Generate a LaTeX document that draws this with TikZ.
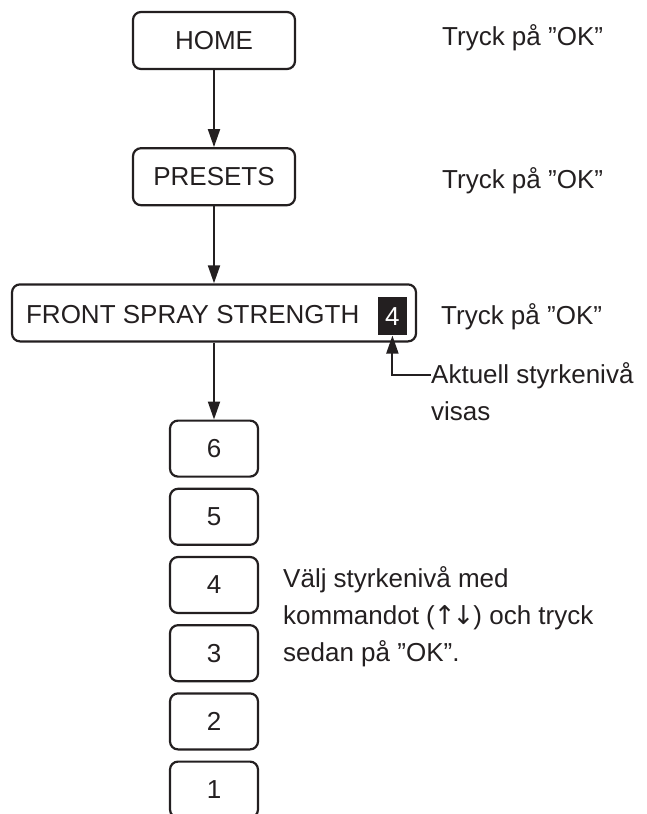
\documentclass[tikz,border=0pt]{standalone}
\usepackage{fontspec}
\setmainfont{Liberation Sans}
\newfontfamily\arrowfont{DejaVu Sans}
\usetikzlibrary{arrows.meta,positioning}
\definecolor{ink}{RGB}{35,31,32}

\begin{document}
\begin{tikzpicture}[
   x=1pt, y=-1pt,
   every node/.style={font=\fontsize{26}{37}\selectfont, text=ink},
   menubox/.style={draw=ink, line width=2.2pt, rounded corners=8pt,
      minimum height=57pt, inner sep=0pt},
   levelbox/.style={draw=ink, line width=2.2pt, rounded corners=8pt,
      minimum width=88pt, minimum height=56pt, inner sep=0pt},
   levelmark/.style={fill=ink, text=white, minimum width=29pt,
      minimum height=38pt, inner sep=0pt},
   note/.style={align=left, inner sep=0pt},
   flow/.style={-{Triangle[length=18pt,width=12pt]}, line width=2pt, draw=ink}
]
\useasboundingbox (0,0) rectangle (646,814);

\node[menubox, minimum width=162pt] (home) at (214,40.5) {HOME};
\node[menubox, minimum width=162pt, below=77pt of home] (presets) {PRESETS};
\node[menubox, minimum width=404pt, below=77pt of presets] (front) {};
\node[anchor=base west, inner sep=0pt] (frontlabel)
   at ([xshift=15pt, yshift=-10.5pt]front.west) {FRONT SPRAY STRENGTH};
\node[levelmark, left=10pt of front.east, yshift=-3.5pt] (current) {4};

% strength levels
\node[levelbox, below=77pt of front] (lvl6) {6};
\foreach \n [remember=\n as \prev (initially 6)] in {5,4,3,2,1}
   \node[levelbox, below=10pt of lvl\prev] (lvl\n) {\n};

\draw[flow] (home) -- (presets);
\draw[flow] (presets) -- (front);
\draw[flow] (front) -- (lvl6);

% notes on the right
\node[note, anchor=base west] (okhome) at (442,45) {Tryck på ”OK”};
\node[note, anchor=base west] (okpresets) at (442,188) {Tryck på ”OK”};
\node[note, anchor=base west] (okfront) at (441,324) {Tryck på ”OK”};
\node[note, anchor=north west] (shown) at (431,362)
   {Aktuell styrkenivå\\visas};
\coordinate (pointer) at ([yshift=-13pt]shown.north west);
\draw[flow] (pointer) -| (current.south);
\node[note, anchor=north west] (choose) at (283,566)
   {Välj styrkenivå med\\kommandot ({\arrowfont\kern-1pt↑\kern-3pt↓\kern-1pt}) och tryck\\sedan på ”OK”.};
\end{tikzpicture}
\end{document}
